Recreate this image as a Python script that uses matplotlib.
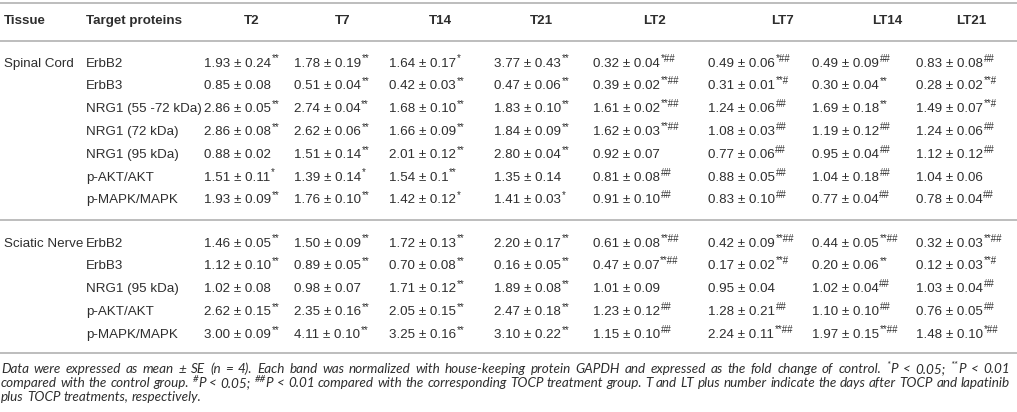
import matplotlib
matplotlib.use("Agg")
import matplotlib.pyplot as plt

# Table content
columns = ["T2", "T7", "T14", "T21", "LT2", "LT7", "LT14", "LT21"]

spinal_proteins = ["ErbB2", "ErbB3", "NRG1 (55 -72 kDa)", "NRG1 (72 kDa)",
                   "NRG1 (95 kDa)", "p-AKT/AKT", "p-MAPK/MAPK"]
spinal_mean = [
    ["1.93", "1.78", "1.64", "3.77", "0.32", "0.49", "0.49", "0.83"],
    ["0.85", "0.51", "0.42", "0.47", "0.39", "0.31", "0.30", "0.28"],
    ["2.86", "2.74", "1.68", "1.83", "1.61", "1.24", "1.69", "1.49"],
    ["2.86", "2.62", "1.66", "1.84", "1.62", "1.08", "1.19", "1.24"],
    ["0.88", "1.51", "2.01", "2.80", "0.92", "0.77", "0.95", "1.12"],
    ["1.51", "1.39", "1.54", "1.35", "0.81", "0.88", "1.04", "1.04"],
    ["1.93", "1.76", "1.42", "1.41", "0.91", "0.83", "0.77", "0.78"],
]
spinal_se = [
    ["0.24", "0.19", "0.17", "0.43", "0.04", "0.06", "0.09", "0.08"],
    ["0.08", "0.04", "0.03", "0.06", "0.02", "0.01", "0.04", "0.02"],
    ["0.05", "0.04", "0.10", "0.10", "0.02", "0.06", "0.18", "0.07"],
    ["0.08", "0.06", "0.09", "0.09", "0.03", "0.03", "0.12", "0.06"],
    ["0.02", "0.14", "0.12", "0.04", "0.07", "0.06", "0.04", "0.12"],
    ["0.11", "0.14", "0.1", "0.14", "0.08", "0.05", "0.18", "0.06"],
    ["0.09", "0.10", "0.12", "0.03", "0.10", "0.10", "0.04", "0.04"],
]
spinal_sig = [
    ["**", "**", "*", "**", "*##", "*##", "##", "##"],
    ["", "**", "**", "**", "**##", "**#", "**", "**#"],
    ["**", "**", "**", "**", "**##", "##", "**", "**#"],
    ["**", "**", "**", "**", "**##", "##", "##", "##"],
    ["", "**", "**", "**", "", "##", "##", "##"],
    ["*", "*", "**", "", "##", "##", "##", ""],
    ["**", "**", "*", "*", "##", "##", "##", "##"],
]

sciatic_proteins = ["ErbB2", "ErbB3", "NRG1 (95 kDa)", "p-AKT/AKT", "p-MAPK/MAPK"]
sciatic_mean = [
    ["1.46", "1.50", "1.72", "2.20", "0.61", "0.42", "0.44", "0.32"],
    ["1.12", "0.89", "0.70", "0.16", "0.47", "0.17", "0.20", "0.12"],
    ["1.02", "0.98", "1.71", "1.89", "1.01", "0.95", "1.02", "1.03"],
    ["2.62", "2.35", "2.05", "2.47", "1.23", "1.28", "1.10", "0.76"],
    ["3.00", "4.11", "3.25", "3.10", "1.15", "2.24", "1.97", "1.48"],
]
sciatic_se = [
    ["0.05", "0.09", "0.13", "0.17", "0.08", "0.09", "0.05", "0.03"],
    ["0.10", "0.05", "0.08", "0.05", "0.07", "0.02", "0.06", "0.03"],
    ["0.08", "0.07", "0.12", "0.08", "0.09", "0.04", "0.04", "0.04"],
    ["0.15", "0.16", "0.15", "0.18", "0.12", "0.21", "0.10", "0.05"],
    ["0.09", "0.10", "0.16", "0.22", "0.10", "0.11", "0.15", "0.10"],
]
sciatic_sig = [
    ["**", "**", "**", "**", "**##", "**##", "**##", "**##"],
    ["**", "**", "**", "**", "**##", "**#", "**", "**#"],
    ["", "", "**", "**", "", "", "##", "##"],
    ["**", "**", "**", "**", "##", "##", "##", "##"],
    ["**", "**", "**", "**", "##", "**##", "**##", "*##"],
]

footnote = [
    [("Data were expressed as mean \u00b1 SE (n = 4). Each band was normalized with house-keeping "
      "protein GAPDH and expressed as the fold change of control. ", False),
     ("*", True), ("P < 0.05; ", False), ("**", True), ("P < 0.01", False)],
    [("compared with the control group. ", False), ("#", True), ("P < 0.05; ", False),
     ("##", True), ("P < 0.01 compared with the corresponding TOCP treatment group. "
                    "T and LT plus number indicate the days after TOCP and lapatinib", False)],
    [("plus TOCP treatments, respectively.", False)],
]

# Layout (pixels)
W, H = 1017, 412
FONT = "Liberation Sans"
NOTE_FONT = "Lato"
COLOR = "#2e2e2e"
LINE = "#b8b8b8"
SIZE = 9.6
col_head_x = [252, 343, 440, 541, 655, 782, 887, 971]
col_data_x = [204, 294, 389, 494, 593, 708, 812, 916]
row_step = 22.8

fig = plt.figure(figsize=(W / 100, H / 100), dpi=100)
ax = fig.add_axes([0, 0, 1, 1])
ax.set_xlim(0, W)
ax.set_ylim(H, 0)
ax.axis("off")
renderer = fig.canvas.get_renderer()


def draw_runs(x, y, runs, size, style="normal", family=FONT, sup_gap=0.6):
    # y is the baseline; superscripts are smaller and raised
    for txt, sup in runs:
        t = ax.text(x + (sup_gap if sup else 0), y - (5 if sup else 0), txt,
                    fontsize=size * 0.72 if sup else size,
                    family=family, style=style, color=COLOR, va="baseline", ha="left")
        x = t.get_window_extent(renderer).x1
    return x


def runs_width(runs, size, style, family):
    n = len(ax.texts)
    end = draw_runs(0, -100, runs, size, style, family)
    for t in list(ax.texts)[n:]:
        t.remove()
    return end


def split_words(runs):
    # group runs into words separated by spaces (superscripts stick to their word)
    words, cur = [], []
    for txt, sup in runs:
        if sup:
            cur.append((txt, True))
            continue
        parts = txt.split(" ")
        for k, p in enumerate(parts):
            if k > 0:
                if cur:
                    words.append(cur)
                cur = []
            if p:
                cur.append((p, False))
    if cur:
        words.append(cur)
    return words


def hline(y):
    ax.plot([0, W], [y, y], color=LINE, lw=1.3, solid_capstyle="butt")


hline(3)
ax.text(4, 21, "Tissue", fontsize=SIZE, family=FONT, weight="bold", color=COLOR, va="center")
ax.text(86, 21, "Target proteins", fontsize=SIZE, family=FONT, weight="bold", color=COLOR, va="center")
for cx, name in zip(col_head_x, columns):
    ax.text(cx, 21, name, fontsize=SIZE, family=FONT, weight="bold", color=COLOR,
            va="center", ha="center")
hline(41)


def draw_block(y0, tissue, proteins, means, ses, sigs):
    ax.text(4, y0 + 4.5, tissue, fontsize=SIZE, family=FONT, color=COLOR, va="baseline")
    for i, prot in enumerate(proteins):
        yb = y0 + i * row_step + 4.5
        ax.text(86, yb, prot, fontsize=SIZE, family=FONT, color=COLOR, va="baseline")
        for j, x in enumerate(col_data_x):
            runs = [(means[i][j] + " \u00b1 " + ses[i][j], False)]
            if sigs[i][j]:
                runs.append((sigs[i][j], True))
            draw_runs(x, yb, runs, SIZE)


draw_block(62, "Spinal Cord", spinal_proteins, spinal_mean, spinal_se, spinal_sig)
hline(220)
draw_block(242, "Sciatic Nerve", sciatic_proteins, sciatic_mean, sciatic_se, sciatic_sig)
hline(353)

# footnote: justified lines, size chosen so the longest line fits
left, right = 1, 1010
base = 10
longest = max(runs_width(line, base, "italic", NOTE_FONT) for line in footnote)
fn_size = min(10.2, base * (right - left - 4) / longest)
space_w = (runs_width([("a a", False)], fn_size, "italic", NOTE_FONT)
           - runs_width([("aa", False)], fn_size, "italic", NOTE_FONT))
for k, line in enumerate(footnote):
    yb = 373 + k * 14
    words = split_words(line)
    widths = [runs_width(w, fn_size, "italic", NOTE_FONT) for w in words]
    if k < len(footnote) - 1:
        gap = (right - left - sum(widths)) / (len(words) - 1)
    else:
        gap = space_w
    x = left
    for w, wd in zip(words, widths):
        draw_runs(x, yb, w, fn_size, style="italic", family=NOTE_FONT)
        x += wd + gap

fig.savefig("out.png", dpi=100)
